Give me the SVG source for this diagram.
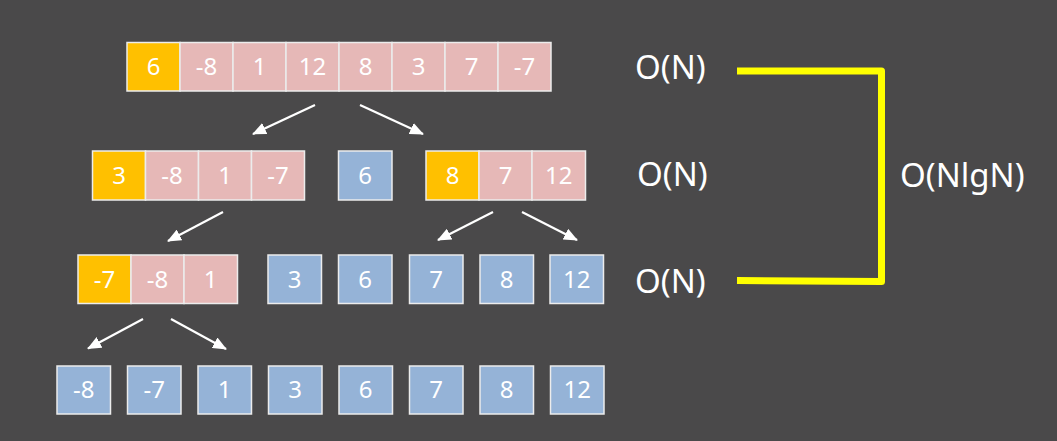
<svg xmlns="http://www.w3.org/2000/svg" width="1057" height="441" viewBox="0 0 1057 441">
<style>
.bg{fill:#4a494a}
.y{fill:#ffc000;stroke:#ececec;stroke-width:1.5}
.p{fill:#e6b8b7;stroke:#ececec;stroke-width:1.5}
.b{fill:#95b3d7;stroke:#ececec;stroke-width:1.5}
.t{font-family:"Noto Sans","Open Sans",sans-serif;font-size:24px;fill:#ffffff;text-anchor:middle}
.o{font-family:"Noto Sans","Open Sans",sans-serif;font-size:33px;fill:#ffffff}
.a{stroke:#ffffff;stroke-width:2.2;fill:none;marker-end:url(#ah)}
</style>
<defs>
<marker id="ah" markerUnits="userSpaceOnUse" markerWidth="14" markerHeight="12" refX="13" refY="6" orient="auto">
<path d="M0,0 L14,6 L0,12 Z" fill="#ffffff"/>
</marker>
</defs>
<rect class="bg" x="0" y="0" width="1057" height="441"/>

<g id="row1">
<rect class="y" x="127" y="42.5" width="53" height="48.5"/>
<rect class="p" x="180" y="42.5" width="53" height="48.5"/>
<rect class="p" x="233" y="42.5" width="53" height="48.5"/>
<rect class="p" x="286" y="42.5" width="53" height="48.5"/>
<rect class="p" x="339" y="42.5" width="53" height="48.5"/>
<rect class="p" x="392" y="42.5" width="53" height="48.5"/>
<rect class="p" x="445" y="42.5" width="53" height="48.5"/>
<rect class="p" x="498" y="42.5" width="53" height="48.5"/>
<text class="t" x="153.5" y="75">6</text>
<text class="t" x="206.5" y="75">-8</text>
<text class="t" x="259.5" y="75">1</text>
<text class="t" x="312.5" y="75">12</text>
<text class="t" x="365.5" y="75">8</text>
<text class="t" x="418.5" y="75">3</text>
<text class="t" x="471.5" y="75">7</text>
<text class="t" x="524.5" y="75">-7</text>
</g>

<g id="row2-left">
<rect class="y" x="92.5" y="151" width="53" height="49"/>
<rect class="p" x="145.5" y="151" width="53" height="49"/>
<rect class="p" x="198.5" y="151" width="53" height="49"/>
<rect class="p" x="251.5" y="151" width="53" height="49"/>
<text class="t" x="119" y="184">3</text>
<text class="t" x="172" y="184">-8</text>
<text class="t" x="225" y="184">1</text>
<text class="t" x="278" y="184">-7</text>
</g>
<g id="row2-pivot">
<rect class="b" x="338.5" y="151" width="53.5" height="49"/>
<text class="t" x="365.2" y="184">6</text>
</g>
<g id="row2-right">
<rect class="y" x="426" y="151" width="53" height="49"/>
<rect class="p" x="479" y="151" width="53" height="49"/>
<rect class="p" x="532" y="151" width="53.5" height="49"/>
<text class="t" x="452.5" y="184">8</text>
<text class="t" x="505.5" y="184">7</text>
<text class="t" x="558.7" y="184">12</text>
</g>

<g id="row3-left">
<rect class="y" x="78" y="255" width="53" height="48.5"/>
<rect class="p" x="131" y="255" width="53" height="48.5"/>
<rect class="p" x="184" y="255" width="53.5" height="48.5"/>
<text class="t" x="104.5" y="287.5">-7</text>
<text class="t" x="157.5" y="287.5">-8</text>
<text class="t" x="210.7" y="287.5">1</text>
</g>
<g id="row3-3"><rect class="b" x="268" y="255" width="53.5" height="48.5"/><text class="t" x="294.7" y="287.5">3</text></g>
<g id="row3-6"><rect class="b" x="338.5" y="255" width="53.5" height="48.5"/><text class="t" x="365.2" y="287.5">6</text></g>
<g id="row3-7"><rect class="b" x="409.5" y="255" width="53.5" height="48.5"/><text class="t" x="436.2" y="287.5">7</text></g>
<g id="row3-8"><rect class="b" x="480" y="255" width="53.5" height="48.5"/><text class="t" x="506.7" y="287.5">8</text></g>
<g id="row3-12"><rect class="b" x="550" y="255" width="53.5" height="48.5"/><text class="t" x="576.7" y="287.5">12</text></g>

<g id="row4-m8"><rect class="b" x="57" y="366" width="53.5" height="48"/><text class="t" x="83.7" y="398">-8</text></g>
<g id="row4-m7"><rect class="b" x="127.5" y="366" width="53.5" height="48"/><text class="t" x="154.2" y="398">-7</text></g>
<g id="row4-1"><rect class="b" x="198" y="366" width="53.5" height="48"/><text class="t" x="224.7" y="398">1</text></g>
<g id="row4-3"><rect class="b" x="268.5" y="366" width="53.5" height="48"/><text class="t" x="295.2" y="398">3</text></g>
<g id="row4-6"><rect class="b" x="339" y="366" width="53.5" height="48"/><text class="t" x="365.7" y="398">6</text></g>
<g id="row4-7"><rect class="b" x="409.5" y="366" width="53.5" height="48"/><text class="t" x="436.2" y="398">7</text></g>
<g id="row4-8"><rect class="b" x="480" y="366" width="53.5" height="48"/><text class="t" x="506.7" y="398">8</text></g>
<g id="row4-12"><rect class="b" x="550.5" y="366" width="53.5" height="48"/><text class="t" x="577.2" y="398">12</text></g>

<g id="connectors">
<line class="a" x1="315" y1="105" x2="253" y2="134"/>
<line class="a" x1="360" y1="105" x2="423" y2="134"/>
<line class="a" x1="223" y1="212" x2="168" y2="241"/>
<line class="a" x1="493" y1="212" x2="438" y2="240"/>
<line class="a" x1="522" y1="212" x2="577" y2="240"/>
<line class="a" x1="143" y1="319" x2="88" y2="348.5"/>
<line class="a" x1="171" y1="319" x2="226" y2="349"/>
<path d="M737,71 H881.5 V281.5 L737,280.5" fill="none" stroke="#ffff00" stroke-width="7" stroke-linejoin="round"/>
</g>

<g id="labels">
<text class="o" x="635" y="78.5">O(N)</text>
<text class="o" x="637" y="186">O(N)</text>
<text class="o" x="635" y="293">O(N)</text>
<text class="o" x="900" y="187">O(NlgN)</text>
</g>
</svg>
